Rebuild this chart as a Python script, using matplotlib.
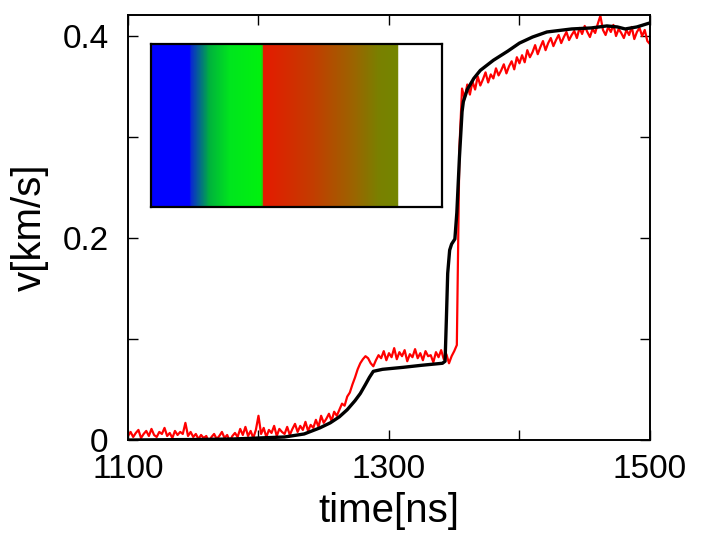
import numpy as np
import matplotlib
matplotlib.use('Agg')
from matplotlib import pyplot as plt
from matplotlib.colors import LinearSegmentedColormap

# measured velocity (red), sampled every 2 ns from 1100 to 1500
t_meas = np.arange(1100, 1501, 2)
v_meas = [
    .004, .008, .003, .007, .010, .002, .006, .009, .004, .011, .005,
    .003, .008, .006, .012, .004, .007, .002, .009, .005, .008,
    .006, .017, .004, .008, .003, .006, .001, .005, .002, .004,
    -.002, .003, .006, .001, .004, .008, .002, .005, -.001, .004,
    .007, .003, .011, .005, .013, .004, .009, .002, .010, .024,
    .006, .012, .003, .010, .007, .014, .004, .011, .008, .006,
    .013, .005, .011, .016, .008, .014, .010, .018, .009, .015,
    .012, .020, .013, .024, .017, .021, .026, .019, .028, .024,
    .030, .036, .034, .043, .047, .055, .062, .070, .076, .080,
    .083, .081, .076, .073, .079,
    .084, .081, .088, .079, .086, .082, .091, .080, .087, .083,
    .089, .078, .085, .082, .090, .081, .086, .079, .088, .083,
    .084, .077, .087, .082, .089, .080, .085, .076, .083, .088,
    .094, .290, .348, .338, .352,
    .342, .355, .347, .360, .351, .357, .364, .354, .362, .358,
    .368, .361, .366, .372, .363, .370, .375, .367, .379, .373,
    .381, .374, .386, .379, .384, .391, .382, .389, .395, .386,
    .393, .398, .390, .396, .401, .393, .399, .404, .396, .401,
    .405, .398, .408, .402, .410, .404, .399, .407, .403, .412,
    .420, .406, .401, .409, .404, .411, .400, .407, .403, .398,
    .406, .401, .409, .397, .404, .408, .400, .406, .395, .392,
]

# simulated velocity (black)
t_sim = [1100, 1150, 1180, 1200, 1220, 1235, 1247, 1255, 1262, 1268,
         1274, 1278, 1282, 1285, 1288, 1295, 1311, 1325, 1341, 1343,
         1344, 1345, 1346.5, 1348, 1350.5, 1352, 1354, 1356, 1357, 1360,
         1365, 1370, 1380, 1391, 1400, 1410, 1421, 1440, 1455, 1467,
         1475, 1481, 1490, 1500]
v_sim = [0.0, 0.0005, 0.001, 0.002, 0.003, 0.006, 0.012, 0.017, 0.023, 0.030,
         0.039, 0.046, 0.055, 0.062, 0.068, 0.070, 0.072, 0.074, 0.076, 0.078,
         0.12, 0.165, 0.188, 0.194, 0.199, 0.225, 0.28, 0.325, 0.335, 0.347,
         0.358, 0.366, 0.376, 0.385, 0.393, 0.399, 0.404, 0.407, 0.408, 0.410,
         0.409, 0.407, 0.409, 0.413]

x_ticks = [1100, 1200, 1300, 1400, 1500]
x_ticklabels = ['1100', '', '1300', '', '1500']
y_ticks = [0, 0.1, 0.2, 0.3, 0.4]
y_ticklabels = ['0', '', '0.2', '', '0.4']

# colour strip of the inset (position along strip, colour)
strip_pos = [0.0, 0.13, 0.135, 0.2, 0.27, 0.38, 0.382, 0.55, 0.7, 0.78, 0.847, 0.85, 1.0]
strip_col = ['#0000ff', '#0000ff', '#0a28d2', '#00b43c', '#00e61e', '#00f20e',
             '#e61a00', '#c43c00', '#9a6600', '#7a8000', '#748600', '#ffffff', '#ffffff']

plt.rcParams['font.family'] = ['Liberation Sans', 'DejaVu Sans']

fig = plt.figure(figsize=(7.17, 5.46), dpi=100)
ax = fig.add_axes([0.1785, 0.1941, 0.728, 0.7784])

ax.plot(t_meas, v_meas, color='red', lw=1.6, zorder=2)
ax.plot(t_sim, v_sim, color='black', lw=2.4, zorder=3)

ax.set_xlim(1100, 1500)
ax.set_ylim(0, 0.4208)
ax.set_xticks(x_ticks)
ax.set_xticklabels(x_ticklabels)
ax.set_yticks(y_ticks)
ax.set_yticklabels(y_ticklabels)
ax.tick_params(direction='in', length=7, width=1, labelsize=24,
               top=True, right=True)
ax.tick_params(axis='x', pad=10)
ax.tick_params(axis='y', pad=14)
for sp in ax.spines.values():
    sp.set_linewidth(1.4)

ax.set_xlabel('time[ns]', fontsize=29, labelpad=5)
ax.set_ylabel('v[km/s]', fontsize=29, labelpad=10)

# inset colour strip
cmap = LinearSegmentedColormap.from_list('strip', list(zip(strip_pos, strip_col)))
ins = fig.add_axes([0.2106, 0.6209, 0.4059, 0.2985])
ins.imshow(np.linspace(0, 1, 600)[None, :], cmap=cmap, aspect='auto',
           extent=[0, 1, 0, 1])
ins.set_xticks([])
ins.set_yticks([])
for sp in ins.spines.values():
    sp.set_linewidth(1.6)

fig.savefig('out.png', dpi=100)
